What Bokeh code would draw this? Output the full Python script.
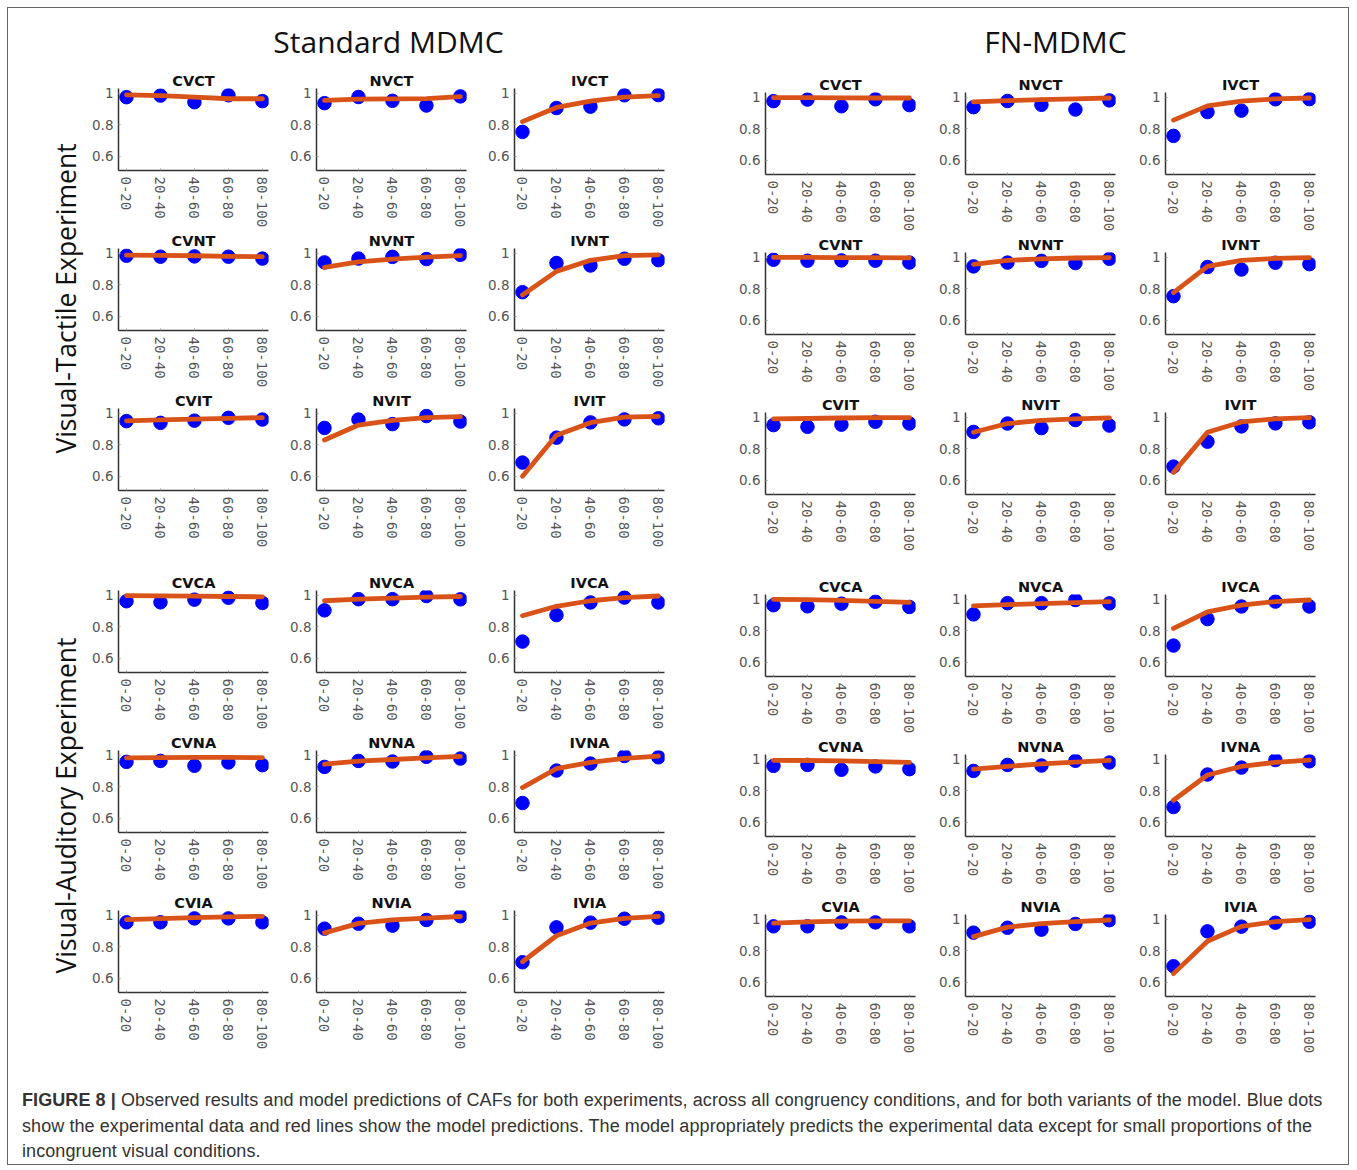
import math
from bokeh.plotting import figure
from bokeh.layouts import row, column, Spacer
from bokeh.models import Label, FixedTicker, Div
from bokeh.embed import file_html
from bokeh.resources import INLINE

# ---------------- data ----------------
bins = ["0-20", "20-40", "40-60", "60-80", "80-100"]
y_ticks = [0.6, 0.8, 1.0]
y_tick_labels = ["0.6", "0.8", "1"]

cond_rows = [["CVCT", "NVCT", "IVCT"],
             ["CVNT", "NVNT", "IVNT"],
             ["CVIT", "NVIT", "IVIT"],
             ["CVCA", "NVCA", "IVCA"],
             ["CVNA", "NVNA", "IVNA"],
             ["CVIA", "NVIA", "IVIA"]]

# observed accuracy (blue dots)
obs_CVCT = [0.975, 0.985, 0.943, 0.987, 0.950]
obs_NVCT = [0.937, 0.976, 0.952, 0.922, 0.980]
obs_IVCT = [0.755, 0.906, 0.915, 0.987, 0.988]
obs_CVNT = [0.984, 0.978, 0.980, 0.978, 0.966]
obs_NVNT = [0.942, 0.966, 0.977, 0.963, 0.990]
obs_IVNT = [0.753, 0.938, 0.922, 0.965, 0.956]
obs_CVIT = [0.950, 0.939, 0.953, 0.971, 0.960]
obs_NVIT = [0.907, 0.960, 0.931, 0.982, 0.947]
obs_IVIT = [0.687, 0.845, 0.942, 0.961, 0.968]
obs_CVCA = [0.962, 0.955, 0.972, 0.984, 0.951]
obs_NVCA = [0.904, 0.975, 0.975, 0.995, 0.974]
obs_IVCA = [0.706, 0.874, 0.954, 0.985, 0.954]
obs_CVNA = [0.958, 0.964, 0.933, 0.954, 0.937]
obs_NVNA = [0.926, 0.964, 0.960, 0.990, 0.979]
obs_IVNA = [0.697, 0.903, 0.947, 0.995, 0.987]
obs_CVIA = [0.955, 0.955, 0.980, 0.980, 0.955]
obs_NVIA = [0.915, 0.946, 0.934, 0.970, 0.994]
obs_IVIA = [0.702, 0.923, 0.953, 0.978, 0.984]

# Standard MDMC predictions (red lines)
std_CVCT = [0.990, 0.985, 0.975, 0.965, 0.965]
std_NVCT = [0.955, 0.962, 0.964, 0.966, 0.978]
std_IVCT = [0.820, 0.910, 0.950, 0.975, 0.985]
std_CVNT = [0.988, 0.986, 0.984, 0.980, 0.978]
std_NVNT = [0.910, 0.945, 0.962, 0.975, 0.985]
std_IVNT = [0.735, 0.885, 0.955, 0.985, 0.990]
std_CVIT = [0.952, 0.958, 0.963, 0.968, 0.972]
std_NVIT = [0.830, 0.925, 0.955, 0.972, 0.978]
std_IVIT = [0.600, 0.860, 0.940, 0.975, 0.980]
std_CVCA = [0.997, 0.996, 0.994, 0.992, 0.990]
std_NVCA = [0.965, 0.975, 0.982, 0.988, 0.992]
std_IVCA = [0.870, 0.930, 0.965, 0.985, 0.995]
std_CVNA = [0.983, 0.985, 0.986, 0.986, 0.985]
std_NVNA = [0.943, 0.962, 0.973, 0.983, 0.993]
std_IVNA = [0.795, 0.915, 0.955, 0.980, 0.995]
std_CVIA = [0.972, 0.979, 0.985, 0.990, 0.993]
std_NVIA = [0.888, 0.948, 0.970, 0.982, 0.992]
std_IVIA = [0.705, 0.870, 0.950, 0.980, 0.993]

# FN-MDMC predictions (red lines)
fn_CVCT = [0.997, 0.997, 0.996, 0.995, 0.995]
fn_NVCT = [0.970, 0.978, 0.985, 0.990, 0.995]
fn_IVCT = [0.855, 0.945, 0.975, 0.990, 0.995]
fn_CVNT = [0.999, 0.999, 0.998, 0.997, 0.996]
fn_NVNT = [0.955, 0.980, 0.990, 0.995, 0.998]
fn_IVNT = [0.775, 0.942, 0.980, 0.993, 0.998]
fn_CVIT = [0.990, 0.992, 0.995, 0.997, 0.998]
fn_NVIT = [0.905, 0.960, 0.980, 0.990, 0.996]
fn_IVIT = [0.650, 0.905, 0.970, 0.990, 0.998]
fn_CVCA = [0.999, 0.997, 0.993, 0.986, 0.980]
fn_NVCA = [0.958, 0.966, 0.972, 0.978, 0.985]
fn_IVCA = [0.815, 0.920, 0.962, 0.985, 0.995]
fn_CVNA = [0.993, 0.992, 0.989, 0.985, 0.980]
fn_NVNA = [0.937, 0.955, 0.970, 0.982, 0.993]
fn_IVNA = [0.740, 0.900, 0.955, 0.980, 0.995]
fn_CVIA = [0.975, 0.983, 0.988, 0.990, 0.990]
fn_NVIA = [0.890, 0.950, 0.972, 0.985, 0.995]
fn_IVIA = [0.655, 0.860, 0.955, 0.985, 0.997]

model_titles = ["Standard MDMC", "FN-MDMC"]
experiment_titles = ["Visual-Tactile Experiment", "Visual-Auditory Experiment"]

caption_lines = [
    "Observed results and model predictions of CAFs for both experiments, across all congruency conditions, and for both variants of the model. Blue dots",
    "show the experimental data and red lines show the model predictions. The model appropriately predicts the experimental data except for small proportions of the",
    "incongruent visual conditions.",
]

G = globals()

# ---------------- styling ----------------
DOT = "#0000ff"
LINE = "#d95319"
AX = "#333333"
LBL = "#555555"


def panel(name, obs, pred, width, left_border):
    xs = list(range(1, len(bins) + 1))
    p = figure(width=width, height=160, x_range=(0.765, 5.18), y_range=(0.51, 1.03),
               output_backend="svg", toolbar_location=None,
               min_border_left=left_border, min_border_right=width - left_border - 150,
               min_border_top=18, min_border_bottom=59)
    p.title.text = name
    p.title.align = "center"
    p.title.text_font = "DejaVu Sans"
    p.title.text_font_size = "14.5px"
    p.title.text_font_style = "bold"
    p.title.text_color = "#111111"
    p.title.standoff = 0
    p.scatter(xs, obs, size=13.5, color=DOT)
    p.line(xs, pred, line_width=4.8, color=LINE, line_cap="round", line_join="round")
    p.grid.visible = False
    p.outline_line_color = None
    p.axis.axis_line_color = AX
    p.axis.axis_line_width = 1.5
    p.axis.major_tick_line_color = "#999999"
    p.axis.major_tick_in = 2
    p.axis.major_tick_out = 0
    p.axis.minor_tick_line_color = None
    p.axis.major_label_text_color = LBL
    p.xaxis.ticker = FixedTicker(ticks=xs)
    p.xaxis.major_label_overrides = {x: b for x, b in zip(xs, bins)}
    p.xaxis.major_label_orientation = -math.pi / 2
    p.xaxis.major_label_text_font = "DejaVu Sans Mono"
    p.xaxis.major_label_text_font_size = "14px"
    p.xaxis.major_label_standoff = 6
    p.yaxis.ticker = FixedTicker(ticks=y_ticks)
    p.yaxis.major_label_overrides = dict(zip(y_ticks, y_tick_labels))
    p.yaxis.major_label_text_font = "DejaVu Sans"
    p.yaxis.major_label_text_font_size = "13.5px"
    p.yaxis.major_label_standoff = 5
    return p


def block(prefix, width, top_pad, first_trim):
    rows_ = []
    total = 3 * width - first_trim
    if top_pad:
        rows_.append(Spacer(width=total, height=top_pad))
    for i, conds in enumerate(cond_rows):
        if i == 3:
            rows_.append(Spacer(width=total, height=22))
        figs = []
        for j, c in enumerate(conds):
            w = width - first_trim if j == 0 else width
            lb = 40 - first_trim if j == 0 else 40
            figs.append(panel(c, G["obs_" + c], G[prefix + c], w, lb))
        rows_.append(row(*figs))
    return column(*rows_)


def blank(width, height):
    f = figure(width=width, height=height, x_range=(0, 1), y_range=(0, 1),
               output_backend="svg", toolbar_location=None,
               x_axis_location=None, y_axis_location=None, min_border=0)
    f.grid.visible = False
    f.outline_line_color = None
    return f


W = 1340
HEADER_H = 62
BODY_H = 986
SIDE_W = 80

header = blank(W, HEADER_H)
for txt, cx in zip(model_titles, [380, 1047]):
    header.add_layout(Label(x=cx, y=HEADER_H - 33, x_units="screen", y_units="screen", text=txt,
                            text_align="center", text_baseline="middle",
                            text_font="Open Sans", text_font_size="30px", text_color="#111111"))

side = blank(SIDE_W, BODY_H)
for txt, cy in zip(experiment_titles, [228, 735]):
    side.add_layout(Label(x=57, y=BODY_H - cy, x_units="screen", y_units="screen", text=txt,
                          angle=math.pi / 2, text_align="center", text_baseline="middle",
                          text_font="Open Sans", text_font_size="26.5px", text_color="#111111"))

left = block("std_", 198, 0, 10)
right = block("fn_", 200, 4, 0)

body = row(side, left, Spacer(width=53, height=BODY_H), right)

cap_html = ('<div style="font-family: \'Liberation Sans\', Arial, sans-serif; font-size: 18px; '
            'letter-spacing: 0.08px; line-height: 25.5px; color: #333333; '
            'padding: 32px 0 0 14px; white-space: nowrap;">'
            '<b>FIGURE 8 |</b> ' + caption_lines[0] + '<br>' + caption_lines[1] + '<br>' +
            caption_lines[2] + '</div>')
caption = Div(text=cap_html, width=W, height=108, margin=0)

root = column(header, body, caption,
              styles={"border": "1px solid #666666", "background": "white", "margin": "7px"})

with open("out.html", "w") as fh:
    fh.write(file_html(root, INLINE))
